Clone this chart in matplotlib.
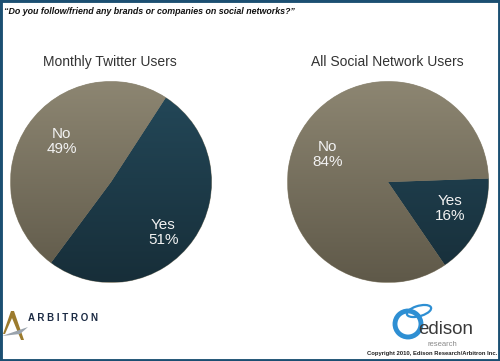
import numpy as np
import matplotlib.pyplot as plt
from matplotlib.patches import Rectangle, Ellipse, Polygon
from matplotlib.colors import LinearSegmentedColormap

plt.rcParams['font.family'] = ['Liberation Sans', 'DejaVu Sans']

question = u"\u201cDo you follow/friend any brands or companies on social networks?\u201d"
chart_titles = ['Monthly Twitter Users', 'All Social Network Users']
answers = ['Yes', 'No']
twitter_pct = [51, 49]
social_pct = [16, 84]
start_angles = [57, 2]

W, H = 500, 361
fig = plt.figure(figsize=(W / 100, H / 100), dpi=100)
fig.patch.set_facecolor('white')

tan_cmap = LinearSegmentedColormap.from_list('tan', ['#5f5949', '#8d8672'])
teal_cmap = LinearSegmentedColormap.from_list('teal', ['#172e39', '#24495a'])
grad = np.linspace(0, 1, 256).reshape(-1, 1)


def px_axes(cx, cy, r):
  return fig.add_axes([(cx - r) / W, 1 - (cy + r) / H, 2 * r / W, 2 * r / H])


def draw_pie(ax, values, start, label_pos):
  wedges, _ = ax.pie(values, startangle=start, counterclock=False, radius=1,
                     colors=['#1f3e4c', '#7a7362'],
                     wedgeprops=dict(linewidth=0.6, edgecolor='#9a9482'))
  # vertical shading inside each slice
  for w, cmap in zip(wedges, [teal_cmap, tan_cmap]):
    im = ax.imshow(grad, cmap=cmap, extent=[-1, 1, -1, 1], origin='lower',
                   aspect='auto', zorder=w.get_zorder() + 0.1)
    im.set_clip_path(w)
  ax.set_xlim(-1, 1)
  ax.set_ylim(-1, 1)
  ax.set_aspect('equal')
  ax.axis('off')
  for name, val, (lx, ly) in zip(answers, values, label_pos):
    ax.text(lx, ly, f'{name}\n{val}%', ha='center', va='center', color='#f2f2f2',
            fontsize=11, linespacing=1.1, zorder=5)


ax1 = px_axes(111, 182, 100.5)
draw_pie(ax1, twitter_pct, start_angles[0], [(0.52, -0.50), (-0.49, 0.40)])
ax2 = px_axes(388, 182, 100.5)
draw_pie(ax2, social_pct, start_angles[1], [(0.62, -0.26), (-0.60, 0.27)])

fig.text(110 / W, 1 - 62 / H, chart_titles[0], ha='center', va='center', fontsize=10, color='#333333')
fig.text(387 / W, 1 - 62 / H, chart_titles[1], ha='center', va='center', fontsize=10, color='#333333')

fig.text(4 / W, 1 - 11 / H, question, ha='left', va='center', fontsize=6.4,
         fontweight='bold', fontstyle='italic', color='#111111')

# Arbitron logo
fig.patches.append(Polygon([[3 / W, 1 - 334 / H], [11 / W, 1 - 311 / H], [14 / W, 1 - 311 / H],
                            [24 / W, 1 - 340 / H], [21 / W, 1 - 340 / H], [12 / W, 1 - 318 / H],
                            [5 / W, 1 - 334 / H]],
                           closed=True, transform=fig.transFigure, facecolor='#9c7b2e', edgecolor='none'))
fig.patches.append(Polygon([[2 / W, 1 - 336 / H], [28 / W, 1 - 327 / H], [20 / W, 1 - 334 / H]],
                           closed=True, transform=fig.transFigure, facecolor='#9aa3ad', edgecolor='none'))
fig.text(28 / W, 1 - 318 / H, 'A R B I T R O N', ha='left', va='center', fontsize=7,
         fontweight='bold', color='#1c2b44')

# Edison logo
fig.patches.append(Ellipse((408 / W, 1 - 324 / H), 26 / W, 26 / H, transform=fig.transFigure,
                           facecolor='none', edgecolor='#2e8fd3', linewidth=3.5))
fig.patches.append(Ellipse((419 / W, 1 - 311 / H), 26 / W, 10 / H, angle=25, transform=fig.transFigure,
                           facecolor='none', edgecolor='#2e8fd3', linewidth=1.6))
fig.text(418 / W, 1 - 329 / H, 'edison', ha='left', va='center', fontsize=13.5, color='#3a3a3a')
fig.text(428 / W, 1 - 345 / H, 'research', ha='left', va='center', fontsize=5.5, color='#8a8a8a')
fig.text(497 / W, 1 - 354 / H, 'Copyright 2010, Edison Research/Arbitron Inc.', ha='right', va='center',
         fontsize=4.2, fontweight='bold', color='#222222')

# frame
fig.patches.append(Rectangle((0, 0), 1, 1, transform=fig.transFigure, facecolor='none',
                             edgecolor='#1b4f72', linewidth=3.5))

plt.savefig('out.png', dpi=100)
